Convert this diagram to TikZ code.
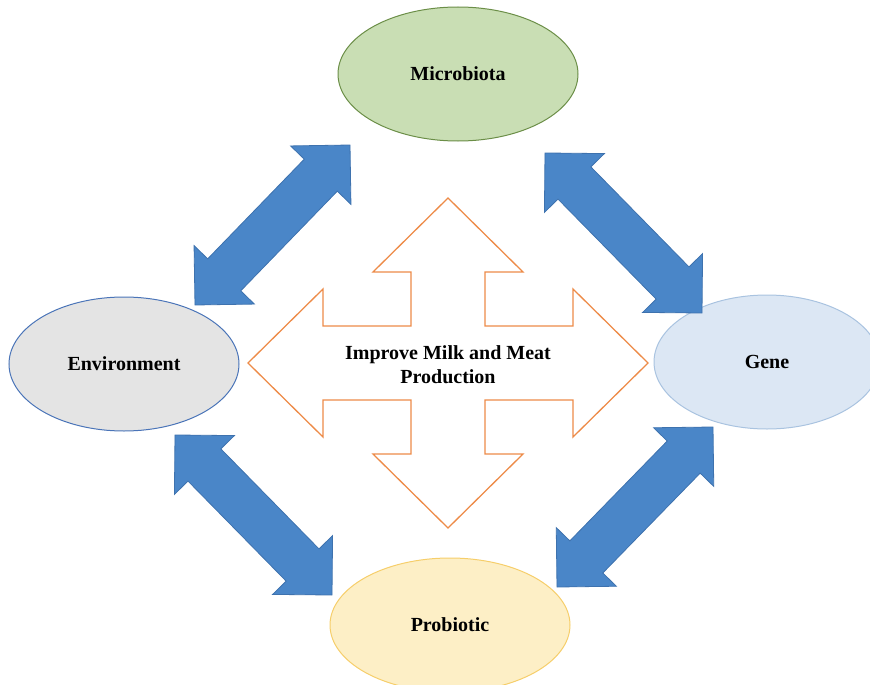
\documentclass[tikz,border=0pt]{standalone}
\usepackage{fontspec}
\setmainfont{Liberation Serif}
\usetikzlibrary{calc, shapes.geometric}
\definecolor{micfill}{HTML}{C9DEB4}
\definecolor{micedge}{HTML}{6B8E47}
\definecolor{envfill}{HTML}{E4E4E4}
\definecolor{envedge}{HTML}{4A74B8}
\definecolor{genfill}{HTML}{DCE7F4}
\definecolor{genedge}{HTML}{A9C3E0}
\definecolor{profill}{HTML}{FDEFC6}
\definecolor{proedge}{HTML}{F6CE6A}
\definecolor{crosscol}{HTML}{ED8B48}
\definecolor{arrfill}{HTML}{4A86C8}
\definecolor{arredge}{HTML}{3E72AE}
% block arrow with a head at both ends, from #1 to #2
\newcommand{\twoway}[2]{%
  \draw[flow] (#1)
    -- ($(#1)!42pt!(#2)!42pt!90:(#2)$) -- ($(#1)!42pt!(#2)!23pt!90:(#2)$)
    -- ($(#2)!42pt!(#1)!23pt!-90:(#1)$) -- ($(#2)!42pt!(#1)!42pt!-90:(#1)$)
    -- (#2)
    -- ($(#2)!42pt!(#1)!42pt!90:(#1)$) -- ($(#2)!42pt!(#1)!23pt!90:(#1)$)
    -- ($(#1)!42pt!(#2)!23pt!-90:(#2)$) -- ($(#1)!42pt!(#2)!42pt!-90:(#2)$)
    -- cycle;}

\begin{document}
\begin{tikzpicture}[x=1pt,y=-1pt,
  blob/.style={ellipse,line width=1pt,inner sep=0pt,minimum height=134pt,
    font=\fontsize{20}{24}\selectfont\bfseries},
  flow/.style={fill=arrfill,draw=arredge,line width=0.8pt,line join=miter},
  crossline/.style={draw=crosscol,line width=1.3pt,line join=miter}]
\useasboundingbox (0,0) rectangle (870,685);
% the four factors
\node[blob,fill=micfill,draw=micedge,minimum width=240pt] (mic) at (458,74)  {Microbiota};
\node[blob,fill=envfill,draw=envedge,minimum width=230pt] (env) at (124,364) {Environment};
\node[blob,fill=genfill,draw=genedge,minimum width=226pt] (gen) at (767,362) {Gene};
\node[blob,fill=profill,draw=proedge,minimum width=240pt] (pro) at (450,625) {Probiotic};
% central four-way arrow
\begin{scope}[shift={(448,363)}]
\draw[crossline] (0,-165) -- (75,-91) -- (37,-91) -- (37,-37) -- (125,-37) -- (125,-74)
  -- (200,0) -- (125,74) -- (125,37) -- (37,37) -- (37,91) -- (75,91)
  -- (0,165) -- (-75,91) -- (-37,91) -- (-37,37) -- (-125,37) -- (-125,74)
  -- (-200,0) -- (-125,-74) -- (-125,-37) -- (-37,-37) -- (-37,-91) -- (-75,-91) -- cycle;
\end{scope}
\node[align=center,font=\fontsize{20}{24}\selectfont\bfseries] (goal) at (448,365)
  {Improve Milk and Meat\\Production};
% arrow ends
\coordinate (mic-env) at (350,145);
\coordinate (env-mic) at (195,305);
\coordinate (mic-gen) at (545,153);
\coordinate (gen-mic) at (702,313);
\coordinate (env-pro) at (175,435);
\coordinate (pro-env) at (332,595);
\coordinate (gen-pro) at (713,427);
\coordinate (pro-gen) at (557,587);
% links between the factors
\twoway{mic-env}{env-mic}
\twoway{mic-gen}{gen-mic}
\twoway{env-pro}{pro-env}
\twoway{gen-pro}{pro-gen}
\end{tikzpicture}
\end{document}
